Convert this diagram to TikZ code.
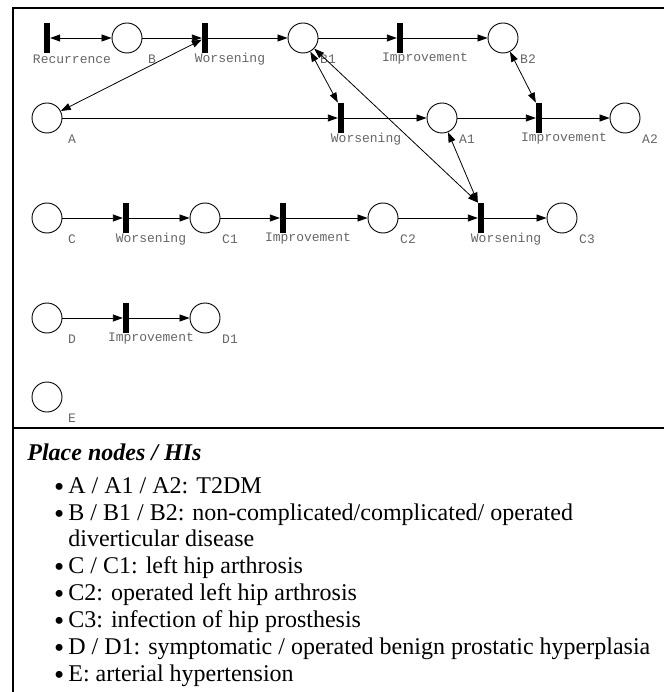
\documentclass[tikz,border=0pt]{standalone}
\usepackage{fontspec}
\setmainfont{Liberation Serif}
\newfontfamily\netfont{Liberation Mono}
\usetikzlibrary{arrows.meta}

\newcommand{\bul}{\llap{\raisebox{-3pt}{\fontsize{29}{29}\selectfont\textbullet}\hspace{4pt}}}

\tikzset{
    tag/.style={xshift=25pt, yshift=-21pt, inner sep=0pt, text=black!60,
        font=\netfont\fontsize{13}{13}\selectfont},
    place/.style={circle, draw, line width=0.9pt, minimum size=30pt, inner sep=0pt,
        label={[tag]center:#1}},
    trans/.style={rectangle, fill=black, minimum width=5.5pt, minimum height=30pt,
        inner sep=0pt, label={[tag]center:#1}},
    frame/.style={line width=2.6pt},
    legend/.style={anchor=base west, inner sep=0pt,
        font=\fontsize{24}{24}\selectfont},
}

\begin{document}
\begin{tikzpicture}[x=1pt, y=-1pt, >={Triangle[length=10pt, width=7pt]}, line width=0.8pt]
            \useasboundingbox ( 0, 0 ) rectangle ( 664, 692 );

            % рамка
            \draw [frame] ( 13, 692 ) -- ( 13, 8 ) -- ( 664, 8 );
            \draw [frame] ( 13, 428 ) -- ( 664, 428 );

            % B
            \node [trans=Recurrence] (R) at ( 47, 38 ) {};
            \node [place=B] (B) at ( 127, 38 ) {};
            \node [trans=Worsening] (Bw) at ( 205, 38 ) {};
            \node [place=B1] (B1) at ( 303, 38 ) {};
            \node [trans=Improvement] (Bi) at ( 400, 38 ) {};
            \node [place=B2] (B2) at ( 503, 38 ) {};

            % A
            \node [place=A] (A) at ( 47, 118 ) {};
            \node [trans=Worsening] (Aw) at ( 341, 118 ) {};
            \node [place=A1] (A1) at ( 442, 118 ) {};
            \node [trans=Improvement] (Ai) at ( 539, 118 ) {};
            \node [place=A2] (A2) at ( 625, 118 ) {};

            % C
            \node [place=C] (C) at ( 47, 218 ) {};
            \node [trans=Worsening] (Cw) at ( 126, 218 ) {};
            \node [place=C1] (C1) at ( 205, 218 ) {};
            \node [trans=Improvement] (Ci) at ( 283, 218 ) {};
            \node [place=C2] (C2) at ( 383, 218 ) {};
            \node [trans=Worsening] (Cw2) at ( 481, 218 ) {};
            \node [place=C3] (C3) at ( 562, 218 ) {};

            % D, E
            \node [place=D] (D) at ( 47, 318 ) {};
            \node [trans=Improvement] (Di) at ( 126, 318 ) {};
            \node [place=D1] (D1) at ( 205, 318 ) {};
            \node [place=E] (E) at ( 47, 397 ) {};

            % дуги
            \draw [<->] (R) -- (B);
            \draw [->] (B) -- (Bw);
            \draw [->] (Bw) -- (B1);
            \draw [->] (B1) -- (Bi);
            \draw [->] (Bi) -- (B2);
            \draw [<->] (A) -- (Bw);

            \draw [->] (A) -- (Aw);
            \draw [->] (Aw) -- (A1);
            \draw [->] (A1) -- (Ai);
            \draw [->] (Ai) -- (A2);
            \draw [<->] (B1) -- (Aw.north west);
            \draw [<->] (B2) -- (Ai.north west);

            \draw [->] (C) -- (Cw);
            \draw [->] (Cw) -- (C1);
            \draw [->] (C1) -- (Ci);
            \draw [->] (Ci) -- (C2);
            \draw [->] (C2) -- (Cw2);
            \draw [->] (Cw2) -- (C3);
            \draw [<->] (B1) -- (Cw2.north west);
            \draw [<->] (A1) -- (Cw2.north west);

            \draw [->] (D) -- (Di);
            \draw [->] (Di) -- (D1);

            % легенда
            \node [legend] (hd) at ( 27, 460 ) {\textbf{\textit{Place nodes / HIs}}};
            \node [legend] (l1) at ( 68, 493 ) {\bul A / A1 / A2: T2DM};
            \node [legend] (l2) at ( 68, 520 ) {\bul B / B1 / B2: non-complicated/complicated/ operated};
            \node [legend] (l3) at ( 68, 546 ) {diverticular disease};
            \node [legend] (l4) at ( 68, 573 ) {\bul C / C1: left hip arthrosis};
            \node [legend] (l5) at ( 68, 600 ) {\bul C2: operated left hip arthrosis};
            \node [legend] (l6) at ( 68, 627 ) {\bul C3: infection of hip prosthesis};
            \node [legend] (l7) at ( 68, 654 ) {\bul D / D1: symptomatic / operated benign prostatic hyperplasia};
            \node [legend] (l8) at ( 68, 681 ) {\bul E: arterial hypertension};
\end{tikzpicture}
\end{document}
